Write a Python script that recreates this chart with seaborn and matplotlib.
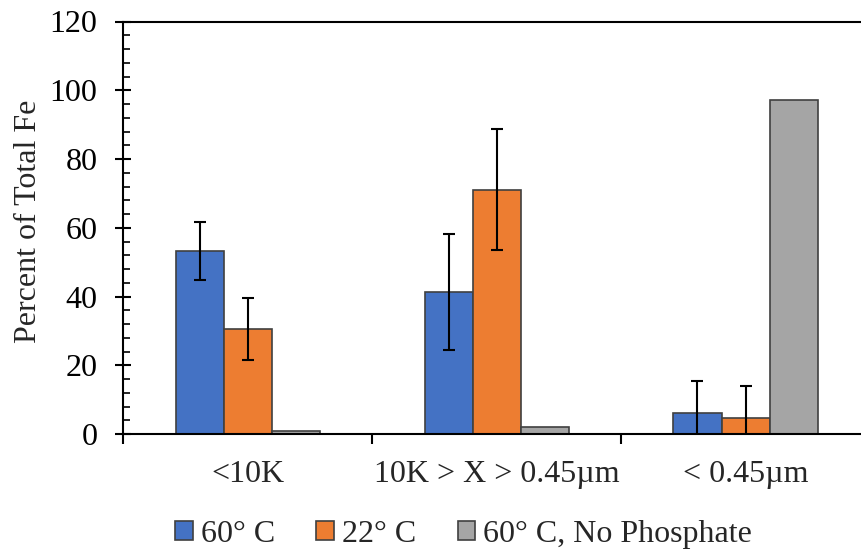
import matplotlib
matplotlib.use("Agg")
import matplotlib.pyplot as plt
from matplotlib.ticker import MultipleLocator
import numpy as np
import pandas as pd
import seaborn as sns

# Size fractions and conditions
categories = ["<10K", "10K > X > 0.45\u00b5m", "< 0.45\u00b5m"]
series = ["60\u00b0 C", "22\u00b0 C", "60\u00b0 C, No Phosphate"]

# Percent of total Fe in each fraction, with standard deviations
pct_60c = [53.2, 41.3, 6.2]
err_60c = [8.5, 16.8, 9.2]
pct_22c = [30.6, 71.1, 4.7]
err_22c = [9.0, 17.6, 9.3]
pct_60c_nophos = [1.0, 1.9, 97.1]
err_60c_nophos = [0.0, 0.0, 0.0]

colors = ["#4472C4", "#ED7D31", "#A5A5A5"]

values = [pct_60c, pct_22c, pct_60c_nophos]
errors = [err_60c, err_22c, err_60c_nophos]

df = pd.DataFrame({
    "Fraction": [c for _ in series for c in categories],
    "Condition": [s for s in series for _ in categories],
    "Percent": [v for vals in values for v in vals],
})

sns.set_style("ticks")
plt.rcParams["font.family"] = ["Liberation Serif", "DejaVu Serif"]
FS = 23
plt.rcParams["font.size"] = FS

fig = plt.figure(figsize=(8.62, 5.54), dpi=100)
W, H = 862, 554
ax = fig.add_axes([123.5 / W, (H - 434) / H, (870 - 123.5) / W, (434 - 21.5) / H])

sns.barplot(
    data=df, x="Fraction", y="Percent", hue="Condition",
    order=categories, hue_order=series, palette=colors,
    saturation=1, width=0.58, errorbar=None,
    edgecolor="#404040", linewidth=1.2, ax=ax,
)

# Error bars centred on each bar
for cont, errs in zip(ax.containers, errors):
    xs = [p.get_x() + p.get_width() / 2 for p in cont.patches]
    hs = [p.get_height() for p in cont.patches]
    mask = np.array(errs) > 0
    ax.errorbar(np.array(xs)[mask], np.array(hs)[mask], yerr=np.array(errs)[mask],
                fmt="none", ecolor="black", elinewidth=1.5, capsize=4,
                capthick=1.5, zorder=5)

ax.set_ylim(0, 120)
ax.set_xlim(-0.5, 2.5)
ax.set_yticks(range(0, 121, 20))
ax.yaxis.set_minor_locator(MultipleLocator(4))
ax.tick_params(axis="y", which="major", direction="inout", length=11.5,
               width=1.5, pad=13, labelsize=FS, colors="black")
ax.tick_params(axis="y", which="minor", direction="in", length=4.8,
               width=1.2, colors="black")

ax.set_xticks([-0.5, 0.5, 1.5, 2.5])
ax.set_xticklabels(["", "", "", ""])
ax.set_xticks([0, 1, 2], minor=True)
ax.set_xticklabels(categories, minor=True)
ax.tick_params(axis="x", which="major", direction="out", length=7,
               width=1.5, colors="black")
ax.tick_params(axis="x", which="minor", length=0, pad=19, labelsize=FS)

ax.set_xlabel("")
ax.set_ylabel("Percent of Total Fe", fontsize=FS, labelpad=5)
ax.yaxis.label.set_y(0.515)

for side in ["left", "bottom", "top"]:
    ax.spines[side].set_color("black")
    ax.spines[side].set_linewidth(1.5)
ax.spines["right"].set_visible(False)

handles, labels = ax.get_legend_handles_labels()
ax.get_legend().remove()
fig.legend(handles, labels, loc="center", bbox_to_anchor=(463.5 / W, 1 - 534.5 / H),
           ncol=3, frameon=False, fontsize=FS, handlelength=0.55,
           handleheight=0.55, handletextpad=0.25, columnspacing=1.3,
           borderaxespad=0, borderpad=0)

fig.savefig("out.png", dpi=100)
